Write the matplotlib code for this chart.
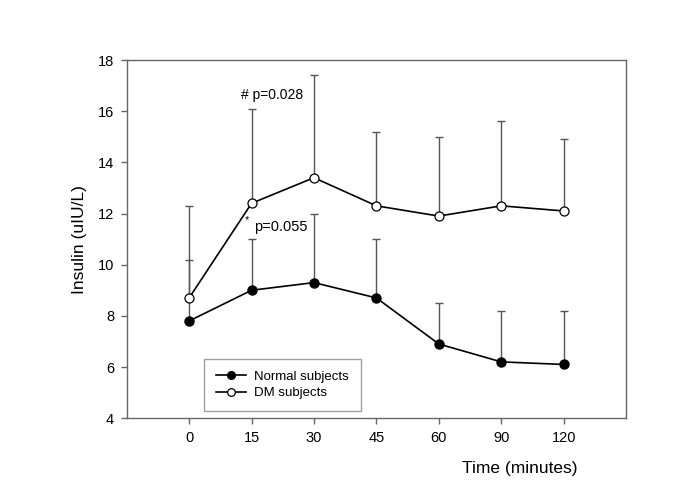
import matplotlib
matplotlib.use("Agg")
import matplotlib.pyplot as plt
import numpy as np

# data
times = ["0", "15", "30", "45", "60", "90", "120"]
normal_mean = [7.8, 9.0, 9.3, 8.7, 6.9, 6.2, 6.1]
normal_sd = [2.4, 2.0, 2.7, 2.3, 1.6, 2.0, 2.1]
dm_mean = [8.7, 12.4, 13.4, 12.3, 11.9, 12.3, 12.1]
dm_sd = [3.6, 3.7, 4.0, 2.9, 3.1, 3.3, 2.8]

plt.rcParams["font.family"] = ["Liberation Sans", "DejaVu Sans"]

GRAY = "#555555"

fig = plt.figure(figsize=(6.85, 4.84), dpi=100)
ax = fig.add_axes([0.185, 0.136, 0.729, 0.740])

x = np.arange(len(times))

# upper error bars only
ax.errorbar(x, dm_mean, yerr=[np.zeros(len(x)), dm_sd], fmt="none",
            ecolor=GRAY, elinewidth=1.0, capsize=3, capthick=1.0, zorder=1)
ax.errorbar(x, normal_mean, yerr=[np.zeros(len(x)), normal_sd], fmt="none",
            ecolor=GRAY, elinewidth=1.0, capsize=3, capthick=1.0, zorder=1)

ax.plot(x, normal_mean, "-o", color="black", lw=1.2, ms=6.5,
        mfc="black", mec="black", label="Normal subjects", zorder=3)
ax.plot(x, dm_mean, "-o", color="black", lw=1.2, ms=6.5,
        mfc="white", mec="black", mew=0.9, label="DM subjects", zorder=3)

ax.text(0.83, 16.63, "# p=0.028", ha="left", va="center", fontsize=10)
ax.text(1.04, 11.48, "p=0.055", ha="left", va="center", fontsize=10.5)
ax.text(0.89, 11.75, "*", ha="left", va="center", fontsize=8)

ax.set_xlim(-1, 7)
ax.set_ylim(4, 18)
ax.set_xticks(x)
ax.set_xticklabels(times)
ax.set_yticks(np.arange(4, 19, 2))

for s in ax.spines.values():
    s.set_color("#666666")
    s.set_linewidth(1.0)
ax.tick_params(direction="out", length=4, width=1.0, color="#666666",
               labelsize=10.5, pad=5)

ax.set_ylabel("Insulin (uIU/L)", fontsize=12.5)
ax.yaxis.set_label_coords(-0.08, 0.5)
ax.set_xlabel("Time (minutes)", fontsize=12.5)
ax.xaxis.set_label_coords(0.788, -0.12)

leg = ax.legend(loc="lower left", bbox_to_anchor=(0.155, 0.02), fontsize=9.5,
                frameon=True, fancybox=False, handlelength=2.3,
                handletextpad=0.6, borderpad=0.9, labelspacing=0.3,
                markerscale=0.85, borderaxespad=0)
leg.get_frame().set_edgecolor("#888888")
leg.get_frame().set_linewidth(1.0)

fig.savefig("out.png", dpi=100)
